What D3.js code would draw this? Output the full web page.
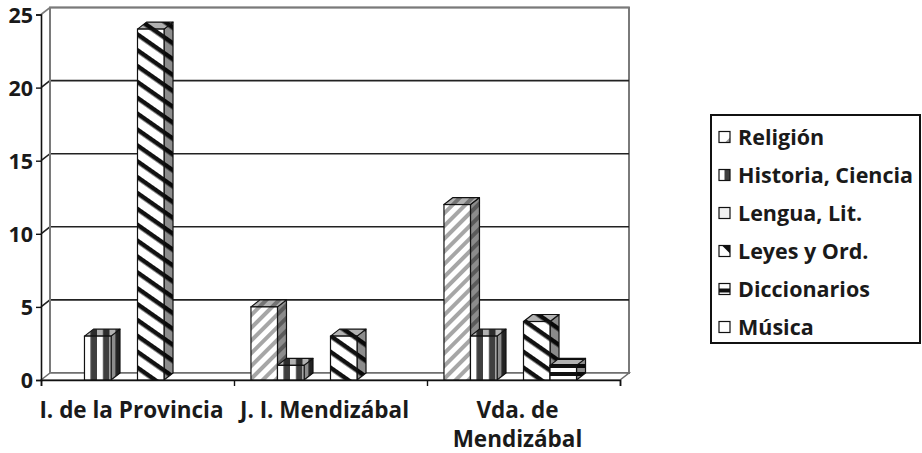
<!DOCTYPE html>
<html>
<head>
<meta charset="utf-8">
<script src="https://cdn.jsdelivr.net/npm/d3@7"></script>
<style>
  body { margin: 0; background: #fff; }
  text { font-family: "Open Sans", Lato, sans-serif; font-weight: bold; fill: #1a1a1a; }
</style>
</head>
<body>
<div id="canvas"></div>
<script>
// data
const categories = ["I. de la Provincia", "J. I. Mendizábal", "Vda. de Mendizábal"];
const categoryLines = [["I. de la Provincia"], ["J. I. Mendizábal"], ["Vda. de", "Mendizábal"]];
const seriesNames = ["Religión", "Historia, Ciencia", "Lengua, Lit.", "Leyes y Ord.", "Diccionarios", "Música"];
const religion = [0, 5, 12];
const historia = [3, 1, 3];
const lengua = [0, 0, 0];
const leyes = [24, 3, 4];
const diccionarios = [0, 0, 1];
const musica = [0, 0, 0];
const yTicks = [0, 5, 10, 15, 20, 25];

const seriesValues = [religion, historia, lengua, leyes, diccionarios, musica];
const patternIds = ["p-rel", "p-his", "p-len", "p-ley", "p-dic", "p-mus"];

const width = 922, height = 453;
const plot = { left: 41, right: 620, top: 14.5, bottom: 380 };
const depth = { dx: 9, dy: -7 };

const svg = d3
  .select("#canvas")
  .append("svg")
  .attr("width", width)
  .attr("height", height);

const defs = svg.append("defs");

function stripePattern(id, period, stripe, color, angle, bg) {
  const p = defs
    .append("pattern")
    .attr("id", id)
    .attr("patternUnits", "userSpaceOnUse")
    .attr("width", period)
    .attr("height", 40)
    .attr("patternTransform", `rotate(${angle})`);
  p.append("rect").attr("width", period).attr("height", 40).attr("fill", bg);
  p.append("rect").attr("x", period - stripe).attr("width", stripe).attr("height", 40).attr("fill", color);
}

stripePattern("p-rel", 9, 4, "#a6a6a6", 45, "#fff");
stripePattern("p-his", 12.5, 6.5, "#3f3f3f", 0, "#fff");
stripePattern("p-ley", 13, 4.5, "#111", -55, "#fff");
stripePattern("p-dic", 8, 4, "#111", 90, "#fff");

defs.append("pattern")
  .attr("id", "p-len")
  .attr("patternUnits", "userSpaceOnUse")
  .attr("width", 4).attr("height", 4)
  .append("rect").attr("width", 4).attr("height", 4).attr("fill", "#f0f0f0");
defs.append("pattern")
  .attr("id", "p-mus")
  .attr("patternUnits", "userSpaceOnUse")
  .attr("width", 4).attr("height", 4)
  .append("rect").attr("width", 4).attr("height", 4).attr("fill", "#fff");

const xGroup = d3.scaleBand().domain(categories).range([plot.left, plot.right]);
const xSeries = d3
  .scaleBand()
  .domain(seriesNames)
  .range([0, xGroup.bandwidth()])
  .paddingInner(0)
  .paddingOuter(0.64);
const y = d3.scaleLinear().domain([0, 25]).range([plot.bottom, plot.top]);

const graph = svg.append("g");

// back wall
graph
  .append("rect")
  .attr("x", plot.left + depth.dx)
  .attr("y", y(25) + depth.dy)
  .attr("width", plot.right - plot.left)
  .attr("height", y(0) - y(25))
  .attr("fill", "#fff")
  .attr("stroke", "#7a7a7a")
  .attr("stroke-width", 2);

// floor
graph
  .append("path")
  .attr("d", `M${plot.left},${y(0)} L${plot.left + depth.dx},${y(0) + depth.dy} L${plot.right + depth.dx},${y(0) + depth.dy} L${plot.right},${y(0)} Z`)
  .attr("fill", "#fff")
  .attr("stroke", "#6e6e6e")
  .attr("stroke-width", 1.5);

// gridlines across side wall and back wall
graph
  .selectAll(".grid")
  .data(yTicks.filter(d => d > 0))
  .enter()
  .append("path")
  .attr("class", "grid")
  .attr("d", d => `M${plot.left},${y(d)} L${plot.left + depth.dx},${y(d) + depth.dy} L${plot.right + depth.dx},${y(d) + depth.dy}`)
  .attr("fill", "none")
  .attr("stroke", d => (d === 25 ? "#7a7a7a" : "#222"))
  .attr("stroke-width", 1.6);

// side wall back edge
graph
  .append("line")
  .attr("x1", plot.left + depth.dx).attr("x2", plot.left + depth.dx)
  .attr("y1", y(25) + depth.dy).attr("y2", y(0) + depth.dy)
  .attr("stroke", "#7a7a7a")
  .attr("stroke-width", 2);

// bars
const barData = [];
categories.forEach((c, ci) => {
  seriesNames.forEach((s, si) => {
    const v = seriesValues[si][ci];
    if (v > 0) barData.push({ cat: c, series: s, value: v, pid: patternIds[si] });
  });
});

const bw = xSeries.bandwidth();
const bars = graph
  .selectAll(".bar")
  .data(barData)
  .enter()
  .append("g")
  .attr("class", "bar")
  .attr("transform", d => `translate(${xGroup(d.cat) + xSeries(d.series)},0)`);

bars.each(function (d) {
  const g = d3.select(this);
  const t = y(d.value), b = y(0);
  const side = `M${bw},${t} L${bw + depth.dx},${t + depth.dy} L${bw + depth.dx},${b + depth.dy} L${bw},${b} Z`;
  const top = `M0,${t} L${depth.dx},${t + depth.dy} L${bw + depth.dx},${t + depth.dy} L${bw},${t} Z`;

  g.append("path").attr("d", side).attr("fill", `url(#${d.pid})`);
  g.append("path").attr("d", side).attr("fill", "#000").attr("fill-opacity", 0.45)
    .attr("stroke", "#111").attr("stroke-width", 1.2).attr("stroke-linejoin", "round");

  g.append("path").attr("d", top).attr("fill", `url(#${d.pid})`);
  g.append("path").attr("d", top).attr("fill", "#000").attr("fill-opacity", 0.3)
    .attr("stroke", "#111").attr("stroke-width", 1.2).attr("stroke-linejoin", "round");

  g.append("rect")
    .attr("x", 0).attr("y", t)
    .attr("width", bw).attr("height", b - t)
    .attr("fill", `url(#${d.pid})`)
    .attr("stroke", "#111")
    .attr("stroke-width", 1.2);
});

// axes
const yAxis = d3.axisLeft(y).tickValues(yTicks).tickSize(5).tickPadding(3);
const yAxisG = graph
  .append("g")
  .attr("transform", `translate(${plot.left},0)`)
  .call(yAxis);
yAxisG.select(".domain").attr("stroke", "#111").attr("stroke-width", 1.6);
yAxisG.selectAll(".tick line").attr("stroke", "#111").attr("stroke-width", 1.4);
yAxisG.selectAll(".tick text")
  .style("font-family", "'Open Sans', sans-serif")
  .style("font-weight", "bold")
  .style("font-size", "21.5px")
  .attr("dy", "0.36em")
  .attr("fill", "#1a1a1a");

const xAxis = d3
  .axisBottom(d3.scaleLinear().domain([0, categories.length]).range([plot.left, plot.right]))
  .tickValues(d3.range(categories.length + 1))
  .tickSize(6)
  .tickFormat("");
const xAxisG = graph
  .append("g")
  .attr("transform", `translate(0,${y(0)})`)
  .call(xAxis);
xAxisG.select(".domain").attr("stroke", "#111").attr("stroke-width", 1.6);
xAxisG.selectAll(".tick line").attr("stroke", "#111").attr("stroke-width", 1.4);

// category labels
graph
  .selectAll(".cat")
  .data(categories)
  .enter()
  .append("text")
  .attr("class", "cat")
  .attr("text-anchor", "middle")
  .attr("font-size", 22.5)
  .attr("y", 418)
  .each(function (d, i) {
    const cx = xGroup(d) + xGroup.bandwidth() / 2 - 6;
    d3.select(this)
      .selectAll("tspan")
      .data(categoryLines[i])
      .enter()
      .append("tspan")
      .attr("x", cx)
      .attr("dy", (l, j) => (j === 0 ? 0 : 29))
      .text(l => l);
  });

// legend
const legend = svg.append("g").attr("transform", "translate(711,115)");
legend
  .append("rect")
  .attr("width", 209)
  .attr("height", 228)
  .attr("fill", "#fff")
  .attr("stroke", "#111")
  .attr("stroke-width", 2);

const markerDraw = [
  m => m.append("path").attr("d", "M11,6 L11,11 L6,11 Z").attr("fill", "#9a9a9a"),
  m => m.append("rect").attr("x", 5.5).attr("width", 5.5).attr("height", 11).attr("fill", "#3f3f3f"),
  m => m.append("rect").attr("width", 11).attr("height", 11).attr("fill", "#f0f0f0"),
  m => m.append("path").attr("d", "M3,0 L11,0 L11,8 Z").attr("fill", "#111"),
  m => m.append("rect").attr("y", 5).attr("width", 11).attr("height", 4).attr("fill", "#111"),
  m => m
];

const items = legend
  .selectAll(".item")
  .data(seriesNames)
  .enter()
  .append("g")
  .attr("class", "item")
  .attr("transform", (d, i) => `translate(8,${22 + i * 38})`);

items.each(function (d, i) {
  const m = d3.select(this).append("g").attr("transform", "translate(0,-5.5)");
  m.append("rect").attr("width", 11).attr("height", 11).attr("fill", "#fff");
  markerDraw[i](m);
  m.append("rect").attr("width", 11).attr("height", 11).attr("fill", "none")
    .attr("stroke", "#111").attr("stroke-width", 1.2);
});

items
  .append("text")
  .attr("x", 19)
  .attr("dy", "0.36em")
  .attr("font-size", 21.5)
  .text(d => d);
</script>
</body>
</html>
